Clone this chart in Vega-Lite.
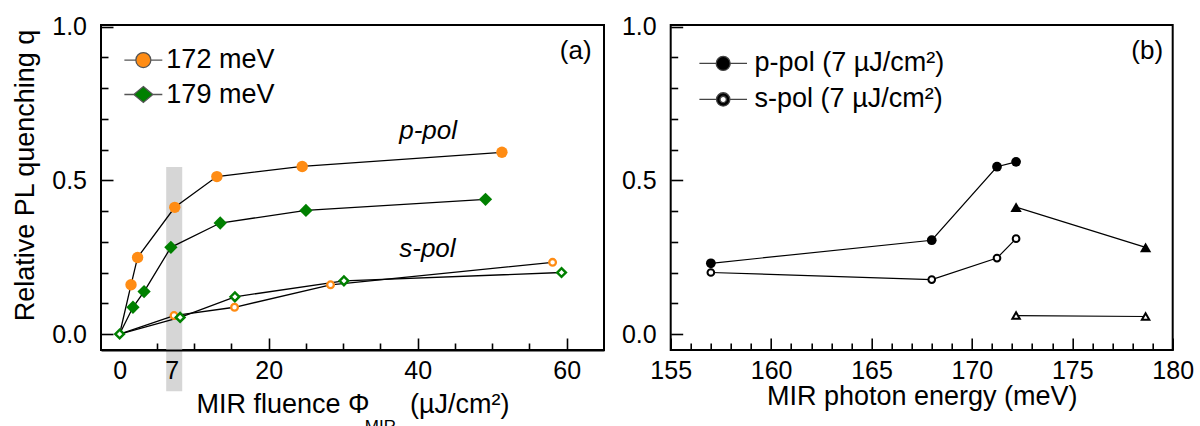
{
  "$schema": "https://vega.github.io/schema/vega-lite/v6.json",
  "background": "white",
  "padding": {"left": 10, "top": 13, "right": 0, "bottom": 0},
  "spacing": 14.7,
  "resolve": {"scale": {"color": "independent", "shape": "independent", "fill": "independent", "stroke": "independent"}, "legend": {"color": "independent", "shape": "independent", "fill": "independent", "stroke": "independent"}},
  "config": {
    "font": "Liberation Sans",
    "view": {"stroke": "black", "strokeWidth": 2},
    "axis": {
      "labelFontSize": 25, "labelColor": "black", "labelFont": "Liberation Sans",
      "titleFontSize": 27, "titleFontWeight": "normal", "titleColor": "black", "titleFont": "Liberation Sans",
      "ticks": true, "tickColor": "black", "tickWidth": 1.5, "tickOpacity": 1, "domainColor": "black", "domainWidth": 2,
      "grid": false, "labelOverlap": false, "labelFlush": false, "zindex": 1
    },
    "legend": {"labelFont": "Liberation Sans", "labelColor": "black", "labelLimit": 500}
  },
  "datasets": {
    "fluence": [
      {"E": "172 meV", "pol": "p", "x": 0, "q": 0},
      {"E": "172 meV", "pol": "p", "x": 1.53, "q": 0.160},
      {"E": "172 meV", "pol": "p", "x": 2.41, "q": 0.249},
      {"E": "172 meV", "pol": "p", "x": 7.40, "q": 0.412},
      {"E": "172 meV", "pol": "p", "x": 13.05, "q": 0.512},
      {"E": "172 meV", "pol": "p", "x": 24.5, "q": 0.545},
      {"E": "172 meV", "pol": "p", "x": 51.3, "q": 0.591},
      {"E": "179 meV", "pol": "p", "x": 0, "q": 0},
      {"E": "179 meV", "pol": "p", "x": 1.79, "q": 0.087},
      {"E": "179 meV", "pol": "p", "x": 3.28, "q": 0.138},
      {"E": "179 meV", "pol": "p", "x": 6.88, "q": 0.282},
      {"E": "179 meV", "pol": "p", "x": 13.5, "q": 0.361},
      {"E": "179 meV", "pol": "p", "x": 25.0, "q": 0.402},
      {"E": "179 meV", "pol": "p", "x": 49.1, "q": 0.438},
      {"E": "172 meV", "pol": "s", "x": 0, "q": 0},
      {"E": "172 meV", "pol": "s", "x": 7.30, "q": 0.060},
      {"E": "172 meV", "pol": "s", "x": 15.42, "q": 0.087},
      {"E": "172 meV", "pol": "s", "x": 28.3, "q": 0.160},
      {"E": "172 meV", "pol": "s", "x": 58.1, "q": 0.233},
      {"E": "179 meV", "pol": "s", "x": 0, "q": 0},
      {"E": "179 meV", "pol": "s", "x": 8.12, "q": 0.054},
      {"E": "179 meV", "pol": "s", "x": 15.47, "q": 0.121},
      {"E": "179 meV", "pol": "s", "x": 30.1, "q": 0.173},
      {"E": "179 meV", "pol": "s", "x": 59.3, "q": 0.200}
    ],
    "energy": [
      {"pol": "p", "mk": "circle", "e": 157, "q": 0.230},
      {"pol": "p", "mk": "circle", "e": 168, "q": 0.305},
      {"pol": "p", "mk": "circle", "e": 171.25, "q": 0.544},
      {"pol": "p", "mk": "circle", "e": 172.2, "q": 0.560},
      {"pol": "s", "mk": "circle", "e": 157, "q": 0.200},
      {"pol": "s", "mk": "circle", "e": 168, "q": 0.177},
      {"pol": "s", "mk": "circle", "e": 171.25, "q": 0.247},
      {"pol": "s", "mk": "circle", "e": 172.2, "q": 0.310},
      {"pol": "p", "mk": "triangle", "e": 172.2, "q": 0.413},
      {"pol": "p", "mk": "triangle", "e": 178.65, "q": 0.282},
      {"pol": "s", "mk": "triangle", "e": 172.2, "q": 0.060},
      {"pol": "s", "mk": "triangle", "e": 178.65, "q": 0.057}
    ]
  },
  "hconcat": [
    {
      "width": 503,
      "height": 325,
      "resolve": {"axis": {"x": "independent", "y": "independent"}},
      "layer": [
        {
          "data": {"values": [{"band": "7 µJ/cm²"}]},
          "mark": {"type": "rect", "color": "#d6d6d6", "clip": false},
          "encoding": {
            "x": {
              "datum": 6.25, "type": "quantitative",
              "scale": {"domain": [-2.5, 65], "nice": false, "zero": false},
              "axis": {"orient": "bottom", "values": [0, 7], "ticks": true, "tickSize": 0, "labelPadding": 8, "domain": true, "title": null, "zindex": 1, "labelOverlap": false}
            },
            "x2": {"datum": 8.4},
            "y": {"datum": -0.186, "type": "quantitative", "scale": {"domain": [-0.052, 1.005], "nice": false, "zero": false}, "axis": null},
            "y2": {"datum": 0.543}
          }
        },
        {
          "data": {"name": "fluence"},
          "mark": {"type": "line", "color": "black", "strokeWidth": 1.3},
          "encoding": {
            "x": {
              "field": "x", "type": "quantitative",
              "scale": {"domain": [-2.5, 65], "nice": false, "zero": false},
              "axis": {
                "orient": "bottom", "values": [20, 40, 60], "offset": -12, "ticks": true, "tickSize": 12,
                "tickColor": "black", "tickWidth": 1.6, "tickOpacity": 1,
                "labelPadding": 8, "domain": false, "zindex": 1, "labelOverlap": false,
                "title": "MIR fluence Φ\u2003\u2002(µJ/cm²)", "titlePadding": 8
              }
            },
            "y": {
              "field": "q", "type": "quantitative",
              "scale": {"domain": [-0.052, 1.005], "nice": false, "zero": false},
              "axis": {
                "orient": "left", "values": [0, 0.5, 1], "format": ".1f", "offset": -12, "ticks": true, "tickSize": 12,
                "tickColor": "black", "tickWidth": 1.6, "tickOpacity": 1,
                "labelPadding": 14.5, "domain": false, "zindex": 1, "labelOverlap": false,
                "title": "Relative PL quenching q", "titlePadding": 12, "titleY": 150
              }
            },
            "detail": [{"field": "E"}, {"field": "pol"}]
          }
        },
        {
          "data": {"name": "fluence"},
          "transform": [{"filter": "datum.E === '172 meV' && datum.pol === 's' && datum.x > 0"}],
          "mark": {"type": "point", "shape": "circle", "filled": true, "fill": "white", "stroke": "#ff8c14", "strokeWidth": 2.3, "size": 45, "opacity": 1},
          "encoding": {
            "x": {"field": "x", "type": "quantitative", "axis": null},
            "y": {"field": "q", "type": "quantitative", "axis": null}
          }
        },
        {
          "data": {"name": "fluence"},
          "transform": [{"filter": "datum.E === '179 meV' && datum.pol === 's'"}],
          "mark": {"type": "point", "shape": "diamond", "filled": true, "fill": "white", "stroke": "#008000", "strokeWidth": 2.5, "size": 75, "opacity": 1},
          "encoding": {
            "x": {"field": "x", "type": "quantitative", "axis": null},
            "y": {"field": "q", "type": "quantitative", "axis": null}
          }
        },
        {
          "data": {"name": "fluence"},
          "transform": [{"filter": "datum.E === '172 meV' && datum.pol === 'p' && datum.x > 0"}],
          "mark": {"type": "point", "shape": "circle", "filled": true, "color": "#ff8c14", "size": 130, "opacity": 1},
          "encoding": {
            "x": {"field": "x", "type": "quantitative", "axis": null},
            "y": {"field": "q", "type": "quantitative", "axis": null}
          }
        },
        {
          "data": {"name": "fluence"},
          "transform": [{"filter": "datum.E === '179 meV' && datum.pol === 'p' && datum.x > 0"}],
          "mark": {"type": "point", "shape": "diamond", "filled": true, "color": "#008000", "size": 177, "opacity": 1},
          "encoding": {
            "x": {"field": "x", "type": "quantitative", "axis": null},
            "y": {"field": "q", "type": "quantitative", "axis": null}
          }
        },
        {
          "data": {"name": "fluence"},
          "transform": [{"filter": "datum.pol === 'p' && datum.x > 0"}],
          "mark": {"type": "point", "filled": true, "opacity": 0, "size": 10, "strokeWidth": 1.3},
          "encoding": {
            "x": {
              "field": "x", "type": "quantitative",
              "axis": {"orient": "bottom", "values": [5, 10, 15, 25, 30, 35, 45, 50, 55], "offset": -7, "ticks": true, "tickSize": 7, "tickColor": "black", "tickWidth": 1.6, "tickOpacity": 1, "labels": false, "domain": false, "title": null, "zindex": 1}
            },
            "y": {
              "field": "q", "type": "quantitative",
              "axis": {"orient": "left", "values": [0.1, 0.2, 0.3, 0.4, 0.6, 0.7, 0.8, 0.9], "offset": -7, "ticks": true, "tickSize": 7, "tickColor": "black", "tickWidth": 1.6, "tickOpacity": 1, "labels": false, "domain": false, "title": null, "zindex": 1}
            },
            "fill": {
              "field": "E", "type": "nominal",
              "scale": {"domain": ["172 meV", "179 meV"], "range": ["#ff8c14", "#008000"]},
              "legend": {
                "title": null, "orient": "none", "legendX": 28.85, "legendY": 21.6,
                "symbolSize": 225, "symbolOpacity": 1, "symbolStrokeWidth": 1.3,
                "labelOffset": 9.5, "rowPadding": 6.4, "padding": 0, "labelFontSize": 27
              }
            },
            "stroke": {
              "field": "E", "type": "nominal",
              "scale": {"domain": ["172 meV", "179 meV"], "range": ["#555555", "#555555"]},
              "legend": {
                "title": null, "orient": "none", "legendX": 28.85, "legendY": 21.6,
                "symbolSize": 225, "symbolOpacity": 1, "symbolStrokeWidth": 1.3,
                "labelOffset": 9.5, "rowPadding": 6.4, "padding": 0, "labelFontSize": 27
              }
            },
            "shape": {
              "field": "E", "type": "nominal",
              "scale": {"domain": ["172 meV", "179 meV"], "range": ["M-2.53,0H-1M1,0H2.53M-1,0A1,1 0 1,0 1,0A1,1 0 1,0 -1,0Z", "M-2.53,0H-1.27M1.27,0H2.53M0,-1.07L1.27,0L0,1.07L-1.27,0Z"]},
              "legend": {
                "title": null, "orient": "none", "legendX": 28.85, "legendY": 21.6,
                "symbolSize": 225, "symbolOpacity": 1, "symbolStrokeWidth": 1.3,
                "labelOffset": 9.5, "rowPadding": 6.4, "padding": 0, "labelFontSize": 27
              }
            }
          }
        },
        {
          "data": {"values": [{"note": "p-pol"}]},
          "mark": {"type": "text", "fontSize": 26, "fontStyle": "italic", "align": "center", "baseline": "alphabetic", "color": "black"},
          "encoding": {
            "x": {"datum": 41.4, "type": "quantitative", "axis": null},
            "y": {"datum": 0.634, "type": "quantitative", "axis": null},
            "text": {"field": "note"}
          }
        },
        {
          "data": {"values": [{"note": "s-pol"}]},
          "mark": {"type": "text", "fontSize": 26, "fontStyle": "italic", "align": "center", "baseline": "alphabetic", "color": "black"},
          "encoding": {
            "x": {"datum": 41.3, "type": "quantitative", "axis": null},
            "y": {"datum": 0.249, "type": "quantitative", "axis": null},
            "text": {"field": "note"}
          }
        },
        {
          "data": {"values": [{"note": "(a)"}]},
          "mark": {"type": "text", "fontSize": 26, "align": "center", "baseline": "alphabetic", "color": "black"},
          "encoding": {
            "x": {"datum": 61.2, "type": "quantitative", "axis": null},
            "y": {"datum": 0.896, "type": "quantitative", "axis": null},
            "text": {"field": "note"}
          }
        },
        {
          "data": {"values": [{"note": "MIR"}]},
          "mark": {"type": "text", "fontSize": 17, "align": "left", "baseline": "alphabetic", "color": "black", "clip": false},
          "encoding": {
            "x": {"datum": 32.9, "type": "quantitative", "axis": null},
            "y": {"datum": -0.319, "type": "quantitative", "axis": null},
            "text": {"field": "note"}
          }
        }
      ]
    },
    {
      "width": 502,
      "height": 325,
      "resolve": {"axis": {"x": "independent", "y": "independent"}},
      "layer": [
        {
          "data": {"name": "energy"},
          "mark": {"type": "line", "color": "black", "strokeWidth": 1.2},
          "encoding": {
            "x": {
              "field": "e", "type": "quantitative",
              "scale": {"domain": [155, 180], "nice": false, "zero": false},
              "axis": {
                "orient": "bottom", "values": [155, 160, 165, 170, 175, 180], "offset": -12, "ticks": true, "tickSize": 12,
                "tickColor": "black", "tickWidth": 1.6, "tickOpacity": 1,
                "labelPadding": 8, "domain": false, "zindex": 1, "labelOverlap": false,
                "title": "MIR photon energy (meV)", "titlePadding": 0
              }
            },
            "y": {
              "field": "q", "type": "quantitative",
              "scale": {"domain": [-0.052, 1.005], "nice": false, "zero": false},
              "axis": {
                "orient": "left", "values": [0, 0.5, 1], "format": ".1f", "offset": -12, "ticks": true, "tickSize": 12,
                "tickColor": "black", "tickWidth": 1.6, "tickOpacity": 1,
                "labelPadding": 14.5, "domain": false, "zindex": 1, "labelOverlap": false,
                "title": null
              }
            },
            "detail": [{"field": "pol"}, {"field": "mk"}]
          }
        },
        {
          "data": {"name": "energy"},
          "transform": [{"filter": "datum.pol === 'p' && datum.mk === 'circle'"}],
          "mark": {"type": "point", "shape": "circle", "filled": true, "color": "black", "size": 95, "opacity": 1},
          "encoding": {
            "x": {"field": "e", "type": "quantitative", "axis": null},
            "y": {"field": "q", "type": "quantitative", "axis": null}
          }
        },
        {
          "data": {"name": "energy"},
          "transform": [{"filter": "datum.pol === 's' && datum.mk === 'circle'"}],
          "mark": {"type": "point", "shape": "circle", "filled": true, "fill": "white", "stroke": "black", "strokeWidth": 2, "size": 45, "opacity": 1},
          "encoding": {
            "x": {"field": "e", "type": "quantitative", "axis": null},
            "y": {"field": "q", "type": "quantitative", "axis": null}
          }
        },
        {
          "data": {"name": "energy"},
          "transform": [{"filter": "datum.pol === 'p' && datum.mk === 'triangle'"}],
          "mark": {"type": "point", "shape": "triangle-up", "filled": true, "color": "black", "size": 128, "opacity": 1},
          "encoding": {
            "x": {"field": "e", "type": "quantitative", "axis": null},
            "y": {"field": "q", "type": "quantitative", "axis": null}
          }
        },
        {
          "data": {"name": "energy"},
          "transform": [{"filter": "datum.pol === 's' && datum.mk === 'triangle'"}],
          "mark": {"type": "point", "shape": "triangle-up", "filled": true, "fill": "white", "stroke": "black", "strokeWidth": 2, "size": 55, "opacity": 1},
          "encoding": {
            "x": {"field": "e", "type": "quantitative", "axis": null},
            "y": {"field": "q", "type": "quantitative", "axis": null}
          }
        },
        {
          "data": {"name": "energy"},
          "transform": [{"filter": "datum.mk === 'circle'"}],
          "mark": {"type": "point", "filled": true, "opacity": 0, "size": 10, "strokeWidth": 1.3},
          "encoding": {
            "x": {
              "field": "e", "type": "quantitative",
              "axis": {"orient": "bottom", "values": [156, 157, 158, 159, 161, 162, 163, 164, 166, 167, 168, 169, 171, 172, 173, 174, 176, 177, 178, 179], "offset": -7, "ticks": true, "tickSize": 7, "tickColor": "black", "tickWidth": 1.6, "tickOpacity": 1, "labels": false, "domain": false, "title": null, "zindex": 1}
            },
            "y": {
              "field": "q", "type": "quantitative",
              "axis": {"orient": "left", "values": [0.1, 0.2, 0.3, 0.4, 0.6, 0.7, 0.8, 0.9], "offset": -7, "ticks": true, "tickSize": 7, "tickColor": "black", "tickWidth": 1.6, "tickOpacity": 1, "labels": false, "domain": false, "title": null, "zindex": 1}
            },
            "fill": {
              "field": "pol", "type": "nominal",
              "scale": {"domain": ["p", "s"], "range": ["black", "black"]},
              "legend": {
                "title": null, "orient": "none", "legendX": 39, "legendY": 24.9,
                "symbolSize": 196, "symbolOpacity": 1, "symbolStrokeWidth": 1.3,
                "labelOffset": 17.9, "rowPadding": 8, "padding": 0, "labelFontSize": 27,
                "labelExpr": "datum.value === 'p' ? 'p-pol (7 µJ/cm²)' : 's-pol (7 µJ/cm²)'"
              }
            },
            "stroke": {
              "field": "pol", "type": "nominal",
              "scale": {"domain": ["p", "s"], "range": ["#444444", "#444444"]},
              "legend": {
                "title": null, "orient": "none", "legendX": 39, "legendY": 24.9,
                "symbolSize": 196, "symbolOpacity": 1, "symbolStrokeWidth": 1.3,
                "labelOffset": 17.9, "rowPadding": 8, "padding": 0, "labelFontSize": 27,
                "labelExpr": "datum.value === 'p' ? 'p-pol (7 µJ/cm²)' : 's-pol (7 µJ/cm²)'"
              }
            },
            "shape": {
              "field": "pol", "type": "nominal",
              "scale": {"domain": ["p", "s"], "range": ["M-3.4,0H-1M1,0H3.4M-1,0A1,1 0 1,0 1,0A1,1 0 1,0 -1,0Z", "M-3.4,0H-0.95M0.95,0H3.4M-0.95,0A0.95,0.95 0 1,0 0.95,0A0.95,0.95 0 1,0 -0.95,0ZM-0.45,0A0.45,0.45 0 1,1 0.45,0A0.45,0.45 0 1,1 -0.45,0Z"]},
              "legend": {
                "title": null, "orient": "none", "legendX": 39, "legendY": 24.9,
                "symbolSize": 196, "symbolOpacity": 1, "symbolStrokeWidth": 1.3,
                "labelOffset": 17.9, "rowPadding": 8, "padding": 0, "labelFontSize": 27,
                "labelExpr": "datum.value === 'p' ? 'p-pol (7 µJ/cm²)' : 's-pol (7 µJ/cm²)'"
              }
            }
          }
        },
        {
          "data": {"values": [{"note": "(b)"}]},
          "mark": {"type": "text", "fontSize": 26, "align": "center", "baseline": "alphabetic", "color": "black"},
          "encoding": {
            "x": {"datum": 178.73, "type": "quantitative", "axis": null},
            "y": {"datum": 0.896, "type": "quantitative", "axis": null},
            "text": {"field": "note"}
          }
        }
      ]
    }
  ]
}
